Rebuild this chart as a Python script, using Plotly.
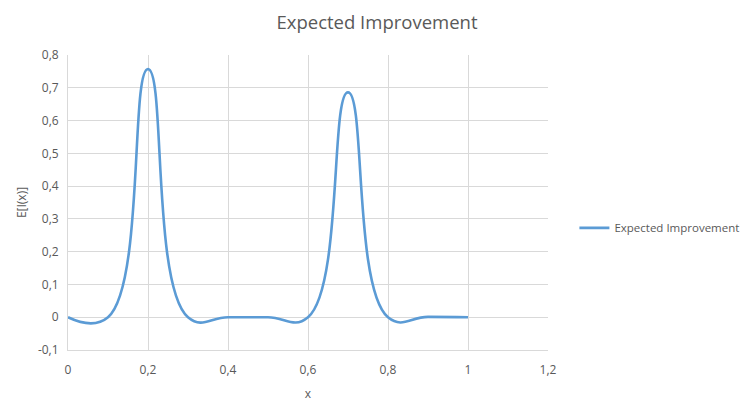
import plotly.graph_objects as go

# Sample points of the expected-improvement curve
x_vals = [0.0, 0.1, 0.2, 0.3, 0.4, 0.5, 0.6, 0.7, 0.8, 0.9, 1.0]
ei_vals = [0.0, 0.0, 0.757, 0.0, 0.0, 0.0, 0.0, 0.686, 0.0, 0.001, 0.0]

x_ticks = [0, 0.2, 0.4, 0.6, 0.8, 1.0, 1.2]
x_tick_text = ["0", "0,2", "0,4", "0,6", "0,8", "1", "1,2"]
y_ticks = [-0.1, 0, 0.1, 0.2, 0.3, 0.4, 0.5, 0.6, 0.7, 0.8]
y_tick_text = ["-0,1", "0", "0,1", "0,2", "0,3", "0,4", "0,5", "0,6", "0,7", "0,8"]

FONT = "Open Sans"
GREY = "#595959"

fig = go.Figure()
fig.add_trace(go.Scatter(
    x=x_vals, y=ei_vals, mode="lines", name="Expected Improvement",
    line=dict(color="#5b9bd5", width=2.6, shape="spline", smoothing=1.3),
))

fig.update_layout(
    width=754, height=411,
    margin=dict(l=68, r=206, t=55, b=61, autoexpand=False),
    paper_bgcolor="white", plot_bgcolor="white",
    font=dict(family=FONT, color=GREY, size=11),
    title=dict(text="Expected Improvement", x=0.5, xref="container", xanchor="center",
               y=0.945, yanchor="middle",
               font=dict(family=FONT, size=18.5, color=GREY)),
    showlegend=True,
    legend=dict(x=1.055, y=0.414, xanchor="left", yanchor="middle",
                font=dict(family=FONT, size=11.5, color=GREY),
                itemwidth=30, bgcolor="rgba(0,0,0,0)"),
    xaxis=dict(range=[0, 1.2], tickvals=x_ticks, ticktext=x_tick_text,
               showgrid=True, gridcolor="#d9d9d9", gridwidth=1,
               showline=True, linecolor="#d9d9d9", linewidth=1, mirror=False,
               zeroline=False, ticks="", ticklabelstandoff=9,
               tickfont=dict(family=FONT, size=12, color=GREY),
               title=dict(text="x", font=dict(family=FONT, size=12, color=GREY), standoff=12)),
    yaxis=dict(range=[-0.1, 0.8], tickvals=y_ticks, ticktext=y_tick_text,
               showgrid=True, gridcolor="#d9d9d9", gridwidth=1,
               showline=True, linecolor="#d9d9d9", linewidth=1,
               zeroline=False, ticks="", ticklabelstandoff=6,
               tickfont=dict(family=FONT, size=12, color=GREY),
               title=dict(text="E[I(x)]", font=dict(family=FONT, size=12, color=GREY), standoff=8)),
)

fig.write_html("out.html")
